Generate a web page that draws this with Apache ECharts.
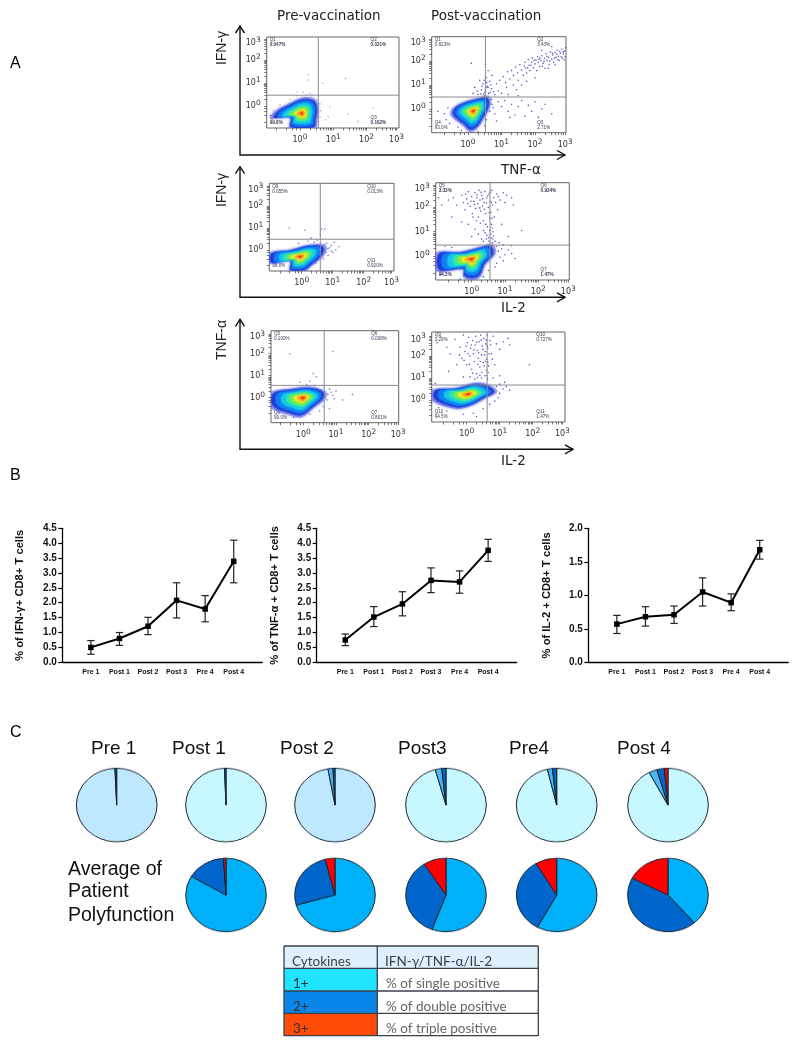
<!DOCTYPE html>
<html><head><meta charset="utf-8">
<style>html,body{margin:0;padding:0;background:#fff}#main{position:absolute;left:0;top:0;width:800px;height:1045px}#pies{position:absolute;left:0;top:755px;width:800px;height:205px;transform-origin:0 0;transform:scaleY(0.913);pointer-events:none}</style>
<script src="https://cdn.jsdelivr.net/npm/echarts@6/dist/echarts.min.js"></script>
</head><body><div id="main"></div><div id="pies"></div>
<script>
// ---------- data: line charts ----------
const visits = ['', 'Pre 1', 'Post 1', 'Post 2', 'Post 3', 'Pre 4', 'Post 4', ''];
const ifnMean = [0.5, 0.8, 1.21, 2.08, 1.79, 3.39];
const ifnHigh = [0.73, 1.0, 1.51, 2.67, 2.24, 4.1];
const ifnLow  = [0.27, 0.57, 0.93, 1.49, 1.36, 2.67];
const tnfMean = [0.75, 1.52, 1.96, 2.75, 2.7, 3.76];
const tnfHigh = [0.95, 1.87, 2.37, 3.17, 3.07, 4.13];
const tnfLow  = [0.56, 1.2, 1.56, 2.34, 2.32, 3.39];
const il2Mean = [0.57, 0.68, 0.71, 1.05, 0.89, 1.68];
const il2High = [0.7, 0.83, 0.84, 1.26, 1.02, 1.82];
const il2Low  = [0.43, 0.54, 0.58, 0.84, 0.77, 1.54];
// ---------- data: pies ----------
const pieNames = ['Pre 1', 'Post 1', 'Post 2', 'Post3', 'Pre4', 'Post 4'];
const perVisitSlices = [[99.3,0,0.7,0],[99.4,0,0.6,0],[97.2,2,0.8,0],[95.7,2.6,1.7,0],[96.3,2,1.7,0],[92.25,3.3,3,1.45]];
const polySlices = [[83.5,15.5,1],[70.6,25.5,3.9],[55.7,35.2,9.1],[58,33.4,8.6],[38.7,43.9,17.4]];
// ---------- data: flow panels (log10 decades) ----------
const blobTL = [[0.45,0.26],[0.55,-0.17],[0.5,-0.6],[0.45,-0.95],[-0.3,-0.95],[-0.3,-0.5],[-0.85,-0.52],[-0.75,-0.25],[-0.4,0.04],[0.1,0.35]];
const blobTR = [[0.61,0.51],[0.66,0.17],[0.46,-0.39],[0.26,-0.8],[0.06,-0.92],[-0.14,-0.67],[-0.49,-0.25],[-0.44,0.03],[-0.09,0.3],[0.31,0.45]];
const blobML = [[-1.05,-0.15],[-0.38,0],[0.27,0.23],[0.75,0.18],[0.7,-0.23],[0.27,-0.76],[0.1,-0.95],[-0.38,-0.95],[-0.38,-0.5],[-1.05,-0.6]];
const blobMR = [[-1.05,0.12],[-0.35,0.16],[0.35,0.4],[0.6,0.47],[0.7,0.12],[0.4,-0.36],[0.25,-0.84],[0,-0.97],[-0.25,-0.84],[-0.25,-0.55],[-1.05,-0.6]];
const blobBL = [[-1,0.2],[-0.4,0.39],[0.2,0.48],[0.66,0.27],[0.66,-0.02],[0.3,-0.47],[-0.05,-0.86],[-0.4,-0.78],[-1,-0.4]];
const blobBR = [[-1.04,0.45],[-0.35,0.53],[0.25,0.76],[0.65,0.68],[0.9,0.38],[0.55,0.08],[0.05,-0.3],[-0.35,-0.38],[-1.04,0]];
const peakTL = [0.05,-0.32], peakTR = [0.16,-0.08], peakML = [-0.05,-0.3], peakMR = [0,-0.12], peakBL = [0,0], peakBR = [0.05,0.27];
const dotsTL = [[0.25,1.35],[0.25,1.13],[0.68,0.99],[1.37,1.2],[-0.08,0.62],[0.55,0.26],[0.9,-0.03],[0.85,-0.46],[1.45,-0.35],[2.2,-0.1],[0.78,-0.6],[1.75,-0.67],[0.2,0.5],[0.1,0.6],[-0.1,0.45],[0.35,0.45],[0.3,0.55],[-0.3,0.3],[0.6,0.1],[0.62,-0.2],[0.6,-0.5],[0.55,-0.7],[-0.6,0.05],[-0.8,-0.2],[-0.9,-0.4]];
const dotsTR = [[1.05,1.35],[1.12,1.1],[1.18,1.55],[1.25,1.25],[1.3,1.6],[1.36,1.4],[1.42,1.75],[1.48,1.5],[1.5,1.2],[1.55,1.85],[1.6,1.62],[1.65,1.4],[1.7,1.95],[1.72,1.7],[1.75,1.5],[1.8,2.05],[1.82,1.82],[1.85,1.6],[1.9,1.95],[1.92,2.12],[1.95,1.72],[2,1.88],[2.03,2.05],[2.05,1.6],[2.08,2.18],[2.1,1.95],[2.14,1.78],[2.18,2.02],[2.2,2.22],[2.24,1.9],[2.28,2.1],[2.3,1.7],[2.33,2.3],[2.36,2.02],[2.4,2.15],[2.42,1.85],[2.46,2.38],[2.5,2.08],[2.53,2.25],[2.56,1.95],[2.6,2.35],[2.63,2.15],[2.66,2.45],[2.7,2.2],[2.72,2.02],[2.76,2.32],[2.8,2.5],[2.82,2.12],[2.85,2.3],[2.88,2.42],[2.9,2.18],[2.92,2.55],[2.5,2.6],[2.2,2.45],[1.6,1],[2,1.3],[0.3,0.6],[0.4,0.8],[0.45,1.05],[0.5,0.7],[0.55,1.3],[0.58,0.95],[0.6,1.6],[0.62,0.65],[0.65,1.15],[0.7,0.85],[0.72,1.4],[0.8,0.6],[0.85,1.05],[0.2,0.9],[0.15,0.65],[0.35,1.2],[0.9,0.75],[1,0.65],[0.1,1.9],[0.52,1.85],[0.42,0.95],[0.48,1.2],[0.56,1.1],[0.68,1],[0.9,0.3],[1,0.1],[1.1,0.35],[1.2,-0.1],[1.3,0.2],[1.4,-0.25],[1.5,0.1],[1.6,0.35],[1.7,-0.3],[1.8,0.15],[1.9,-0.1],[2,0.3],[2.1,-0.35],[2.3,0.2],[2.5,-0.2],[1.25,-0.35],[0.8,-0.2],[0.75,0.05],[0.85,-0.5],[2.2,0],[-0.6,0.05],[-0.7,-0.2],[-0.65,-0.45],[-0.55,-0.6],[-0.3,-0.75],[-0.2,-0.9],[0.3,-0.95],[0.5,-0.7],[0.55,-0.45],[0.65,-0.1],[0.72,0.2],[0.7,0.4],[-0.9,-0.1],
 [2.15,2.12],[2.27,1.98],[2.35,2.2],[2.44,2],[2.52,2.32],[2.58,2.12],[2.65,2.28],[2.68,2.05],[2.74,2.4],[2.78,2.18],[2.84,2.38],[2.87,2.05],[2.94,2.32],[2.96,2.48],[1.98,2.02],[2.12,2.06],[1.88,1.82],[1.78,1.72],[1.68,1.78],[2.22,1.78],[2.4,1.7],[2.6,1.85],[0.5,0.55],[0.6,0.9],[0.66,0.7],[0.76,0.72],[0.46,0.62],[0.54,0.9],[0.28,0.75],[0.38,0.62],[0.95,1.2],[1.15,0.9],[1.35,1],[1.45,0.8],[1.75,1.15],[1.2,0.6],[1.5,0.55]];
const dotsML = [[-0.4,1],[0.1,0.9],[0.65,0.95],[0.75,0.95],[0.6,0.7],[0.3,0.55],[0.5,0.45],[0.8,0.3],[0.9,0.1],[1,-0.1],[1.05,0.35],[0.95,0.2],[1.1,0],[0.85,-0.25],[0.7,-0.4],[0.45,-0.6],[-0.1,0.3],[0.2,0.4],[0.4,0.35],[0.85,0.05],[0.78,-0.1],[0.95,-0.05],[0.72,0.25],[1.2,0.15]];
const dotsMR = [[-0.55,2.4],[-0.7,2.3],[-0.45,2.1],[-0.3,2.5],[-0.25,2.2],[-0.2,1.9],[-0.15,2.35],[-0.1,2.65],[-0.05,2.05],[0,2.45],[0.02,1.75],[0.06,2.25],[0.1,2.6],[0.12,1.95],[0.15,2.4],[0.18,2.15],[0.2,1.6],[0.22,2.7],[0.25,2.3],[0.27,1.85],[0.3,2.5],[0.32,2.05],[0.35,1.45],[0.37,2.2],[0.4,2.65],[0.42,1.75],[0.45,2.4],[0.47,1.2],[0.5,2],[0.52,2.55],[0.54,1.55],[0.56,2.25],[0.57,0.9],[0.58,1.8],[0.6,2.7],[0.6,1.3],[0.62,2.1],[0.63,0.7],[0.64,1],[0.66,2.4],[0.68,1.6],[0.75,2.55],[0.85,2.3],[0.95,2.6],[1,2.2],[1.05,2.5],[1.2,2.4],[1.25,2.1],[0.9,1.3],[1.1,0.8],[0.1,1.1],[0.2,0.9],[0,0.8],[0.3,0.7],[0.4,0.95],[-0.1,1.3],[-0.3,1.4],[-0.6,1.6],[-0.9,2.1],[-1,2.4],[1.5,1.05],[0.35,0.6],[0.5,0.75],[0.55,1.05],[0.45,0.85],[0.75,0.4],[0.8,0.2],[0.9,0.3],[1,0.05],[1.1,0.25],[0.85,-0.05],[0.95,-0.2],[0.75,-0.3],[0.7,-0.45],[1.2,0.1],[1.3,-0.1],[0.5,-0.6],[0.35,-0.85],[-0.35,-0.95],[0.95,0.45],[1.2,0.42],[0.82,0.55],[-0.8,0.4],[-0.9,-0.75],[-0.6,0.35],
 [0.08,2.12],[0.16,2.52],[0.24,1.98],[0.28,2.62],[0.33,2.35],[0.38,1.92],[0.44,2.18],[0.48,2.48],[0.52,1.78],[0.55,2.62],[0.59,2.2],[0.61,1.55],[0.62,1.15],[0.65,0.82],[0.58,0.75],[0.52,0.62],[0.44,0.7],[0.42,1.3],[0.36,1.05],[0.26,1.35],[0.14,1.45],[0.04,1.6],[-0.02,2.25],[-0.12,2.15],[-0.18,2.55],[0.72,2.2],[0.8,2.45],[0.78,1.9],[0.7,0.6],[0.62,0.55]];
const dotsBL = [[-0.4,2],[0.9,2.1],[0.3,1.1],[0.4,0.95],[0.2,0.75],[-0.1,0.7],[0.1,0.6],[0.35,0.55],[0.6,0.55],[0.8,0.4],[0.9,0.1],[1,0.3],[1.2,-0.1],[1.5,0.15],[0.6,-0.4],[0.8,-0.5],[0.5,-0.6],[-0.3,-0.9],[0.2,-0.75],[0.75,0.15],[0.85,0.25],[0.72,-0.1],[0.95,-0.05]];
const dotsBR = [[-0.5,2.1],[-0.35,2.75],[-0.2,2.4],[-0.15,1.9],[-0.1,2.95],[-0.05,2.2],[0,1.6],[0.02,2.6],[0.06,2.85],[0.1,2],[0.12,2.35],[0.15,1.4],[0.18,2.7],[0.2,2.1],[0.23,1.75],[0.26,2.5],[0.28,2.9],[0.3,1.2],[0.32,2.25],[0.35,1.9],[0.38,2.65],[0.4,1.5],[0.42,2.95],[0.45,2.05],[0.47,2.45],[0.5,1.7],[0.52,2.8],[0.55,1.1],[0.56,2.2],[0.58,2.55],[0.6,1.35],[0.6,1.85],[0.62,2.95],[0.63,0.95],[0.64,2.35],[0.66,1.55],[0.7,2.7],[0.75,2.1],[0.8,2.9],[0.9,2.55],[1,2.3],[1.1,2.65],[1.25,2.8],[1.3,2.5],[0.85,1.6],[-0.3,1.6],[-0.6,2.4],[-0.8,2.9],[-0.9,2.6],[-0.55,1.3],[-0.1,1.05],[0.1,1.05],[0.25,0.95],[0.45,1],[1.9,1.6],[1,1.1],[0.8,1],[0.9,0.62],[1,0.72],[1.1,0.5],[1.2,0.6],[1,0.3],[0.95,0.1],[0.85,-0.05],[0.7,-0.2],[0.5,-0.4],[0.2,-0.6],[-0.1,-0.65],[-0.6,-0.5],[-0.85,-0.35],[0.3,-0.75],[1.3,0.45],[1.15,0.8],[-0.95,0.75],
 [0.04,2.1],[0.14,2.5],[0.22,2.28],[0.3,2.62],[0.34,1.62],[0.36,2.15],[0.41,1.75],[0.44,2.72],[0.46,1.25],[0.49,2.3],[0.53,1.55],[0.54,2.05],[0.57,1.75],[0.59,2.72],[0.61,1.1],[0.62,2.45],[0.64,1.7],[0.65,1.25],[0.68,2.1],[0.72,2.5],[0.78,1.85],[0.4,1.12],[0.33,1.02],[0.18,1.22],[0.08,1.62],[-0.08,1.8],[-0.22,2.05],[-0.02,2.45]];
const quadTL = ['Q1','0.047%','Q2','0.021%','Q4','99.8%','Q3','0.162%'];
const quadTR = ['Q1','0.823%','Q2','3.43%','Q4','93.0%','Q3','2.71%'];
const quadML = ['Q9','0.055%','Q10','0.013%','Q12','99.0%','Q11','0.920%'];
const quadMR = ['Q5','3.33%','Q6','0.924%','Q8','94.3%','Q7','1.47%'];
const quadBL = ['Q5','0.100%','Q6','0.008%','Q8','99.0%','Q7','0.801%'];
const quadBR = ['Q9','3.29%','Q10','0.727%','Q12','94.5%','Q11','1.47%'];
const flowLabelExp = ['0','1','2','3'];
const flowXLabelPos = [0,1,2,2.9];
const flowYLabelPos = [0,1,2,2.75];
const flowMinorPos = [-0.7,-0.4,-0.22,-0.1,0,0.3,0.48,0.6,0.7,0.78,0.85,0.9,0.95,1,1.3,1.48,1.6,1.7,1.78,1.85,1.9,1.95,2,2.3,2.48,2.6,2.7,2.78,2.85,2.9];
const tableHead = ['Cytokines','IFN-γ/TNF-α/IL-2'];
const tableKeys = ['1+','2+','3+'];
const tableText = ['% of single positive','% of double positive','% of triple positive'];

// ---------- layout ----------
const flowPanels = [
 {b:[266.7,37,132.3,91],  x0:300,   xs:33.3, y0:106,  ys:23,   q:[0.55,0.47], blob:blobTL, peak:peakTL, dots:dotsTL, text:quadTL, dot:'#9a9cdc'},
 {b:[431.7,36.7,134.3,96],x0:468,   xs:33.5, y0:109,  ys:24,   q:[0.52,0.5],  blob:blobTR, peak:peakTR, dots:dotsTR, text:quadTR, dot:'#3236b4'},
 {b:[269.3,183.3,124.7,87.7],x0:301.7,xs:31,  y0:250,  ys:22,   q:[0.6,0.49],  blob:blobML, peak:peakML, dots:dotsML, text:quadML, dot:'#5a5cc4'},
 {b:[435.7,182.7,133.6,97.3],x0:471.7,xs:33.3,y0:256,  ys:24.3, q:[0.55,0.45], blob:blobMR, peak:peakMR, dots:dotsMR, text:quadMR, dot:'#3236b4'},
 {b:[271,330.7,127.7,92], x0:303.3, xs:32.7, y0:397.7,ys:22,   q:[0.64,0.56], blob:blobBL, peak:peakBL, dots:dotsBL, text:quadBL, dot:'#5a5cc4'},
 {b:[431.7,332,133.3,90], x0:466.7, xs:33,   y0:400,  ys:22,   q:[0.62,0.68], blob:blobBR, peak:peakBR, dots:dotsBR, text:quadBR, dot:'#3236b4'}
];
const linePanels = [
 {left:62.3, mean:ifnMean, hi:ifnHigh, lo:ifnLow, max:4.5, name:'% of IFN-γ+ CD8+ T cells', gap:37},
 {left:316.7,mean:tnfMean, hi:tnfHigh, lo:tnfLow, max:4.5, name:'% of TNF-α + CD8+ T cells', gap:36},
 {left:588.3,mean:il2Mean, hi:il2High, lo:il2Low, max:2,   name:'% of IL-2 + CD8+ T cells', gap:36}
];
const levels = [[1.04,'#6a70e0',.5],[.92,'#2038d8',.92],[.8,'#0f7cf0',1],[.64,'#12c4ee',1],[.5,'#2ee6b0',1],[.38,'#7aec4a',1],[.27,'#e4ee30',1],[.16,'#ffa020',1],[.07,'#ee3010',1]];

const grids=[],xAxes=[],yAxes=[],series=[],graphics=[];
const addText=(x,y,t,o)=>graphics.push({type:'text',x,y,style:Object.assign({text:t,fill:'#000',fontFamily:'"Liberation Sans"',fontSize:12,verticalAlign:'middle'},o||{})});

flowPanels.forEach((p,i)=>{
  const [l,t,w,h]=p.b;
  grids.push({left:l,top:t,width:w,height:h,show:true,borderColor:'#666',borderWidth:1,backgroundColor:'#fff'});
  const xMin=(l-p.x0)/p.xs,xMax=(l+w-p.x0)/p.xs,yMax=(p.y0-t)/p.ys,yMin=(p.y0-t-h)/p.ys;
  const rich={b:{fontFamily:'"DejaVu Sans"',fontSize:8,color:'#333'},s:{fontFamily:'"DejaVu Sans"',fontSize:7.5,color:'#333',padding:[0,0,6,0]}};
  xAxes.push({gridIndex:i,type:'value',min:xMin,max:xMax,splitLine:{show:false},axisLine:{show:false,onZero:false},
    axisTick:{show:true,length:2.5,customValues:flowMinorPos.filter(v=>v>=xMin&&v<=xMax),lineStyle:{color:'#444',width:.7}},
    axisLabel:{customValues:flowXLabelPos,margin:5,formatter:v=>'{b|10}{s|'+flowLabelExp[flowXLabelPos.indexOf(v)]+'}',rich}});
  yAxes.push({gridIndex:i,type:'value',min:yMin,max:yMax,splitLine:{show:false},axisLine:{show:false,onZero:false},
    axisTick:{show:true,length:2.5,customValues:flowMinorPos.filter(v=>v>=yMin&&v<=yMax),lineStyle:{color:'#444',width:.7}},
    axisLabel:{customValues:flowYLabelPos,margin:6,formatter:v=>'{b|10}{s|'+flowLabelExp[flowYLabelPos.indexOf(v)]+'}',rich}});
  series.push({type:'scatter',xAxisIndex:i,yAxisIndex:i,data:p.dots,symbolSize:1.6,silent:true,animation:false,itemStyle:{color:p.dot,opacity:.8},z:2});
  series.push({type:'custom',xAxisIndex:i,yAxisIndex:i,silent:true,animation:false,clip:true,z:3,
    data:levels.map(()=>p.peak),encode:{x:0,y:1},
    renderItem:(params,api)=>{
      const lv=levels[params.dataIndex];
      const pts=p.blob.map(v=>api.coord([p.peak[0]+(v[0]-p.peak[0])*lv[0],p.peak[1]+(v[1]-p.peak[1])*lv[0]]));
      return {type:'polygon',shape:{points:pts,smooth:.35},style:{fill:lv[1],opacity:lv[2],shadowBlur:3,shadowColor:lv[1]}};
    }});
  series.push({type:'custom',xAxisIndex:i,yAxisIndex:i,silent:true,animation:false,z:4,data:[p.q],encode:{x:0,y:1},
    renderItem:(params,api)=>{
      const c=api.coord(p.q),s={stroke:'#8a8a92',lineWidth:1};
      return {type:'group',children:[
        {type:'line',shape:{x1:c[0],y1:t,x2:c[0],y2:t+h},style:s},
        {type:'line',shape:{x1:l,y1:c[1],x2:l+w,y2:c[1]},style:s}]};
    }});
  const q={fontSize:4.6,fill:'#3a3a55',fontFamily:'"Liberation Sans"'};
  const rx=l+w*0.785;
  [[l+3,t+3,0],[rx,t+3,2],[l+3,t+h-10,4],[rx,t+h-10,6]].forEach(a=>{
    addText(a[0],a[1],p.text[a[2]],q); addText(a[0],a[1]+5,p.text[a[2]+1],Object.assign({},q,{fontWeight:(i==0||i==3)?'bold':'normal'}));
  });
});

linePanels.forEach((p,k)=>{
  const i=flowPanels.length+k;
  grids.push({left:p.left,top:528.3,width:200,height:134});
  xAxes.push({gridIndex:i,type:'category',data:visits,boundaryGap:false,axisTick:{show:false},
    axisLine:{lineStyle:{color:'#000',width:1.3}},
    axisLabel:{interval:0,margin:6,fontFamily:'"Liberation Sans"',fontWeight:'bold',fontSize:7,color:'#111'}});
  yAxes.push({gridIndex:i,type:'value',min:0,max:p.max,interval:.5,splitLine:{show:false},
    axisLine:{show:true,lineStyle:{color:'#000',width:1.3}},axisTick:{show:true,length:4,lineStyle:{color:'#000',width:1.2}},
    axisLabel:{margin:5.5,fontFamily:'"Liberation Sans"',fontWeight:'bold',fontSize:10,color:'#111',formatter:v=>v.toFixed(1)},
    name:p.name,nameLocation:'middle',nameGap:p.gap,nameRotate:90,
    nameTextStyle:{fontFamily:'"Liberation Sans"',fontWeight:'bold',fontSize:11.2,color:'#111'}});
  series.push({type:'custom',xAxisIndex:i,yAxisIndex:i,silent:true,animation:false,z:3,
    data:p.mean.map((m,j)=>[j+1,p.lo[j],p.hi[j]]),encode:{x:0,y:[1,2]},
    renderItem:(params,api)=>{
      const a=api.coord([api.value(0),api.value(1)]),b=api.coord([api.value(0),api.value(2)]);
      const s={stroke:'#222',lineWidth:1.2};
      return {type:'group',children:[
        {type:'line',shape:{x1:a[0],y1:a[1],x2:b[0],y2:b[1]},style:s},
        {type:'line',shape:{x1:a[0]-3.7,y1:a[1],x2:a[0]+3.7,y2:a[1]},style:s},
        {type:'line',shape:{x1:b[0]-3.7,y1:b[1],x2:b[0]+3.7,y2:b[1]},style:s}]};
    }});
  series.push({type:'line',xAxisIndex:i,yAxisIndex:i,data:p.mean.map((m,j)=>[j+1,m]),symbol:'rect',symbolSize:5.5,silent:true,animation:false,
    lineStyle:{color:'#000',width:2},itemStyle:{color:'#000'},z:4});
});

// panel letters, headings, arrows
addText(10,64,'A',{fontSize:16}); addText(10,476,'B',{fontSize:16}); addText(10,733,'C',{fontSize:16});
const dj={fontFamily:'"DejaVu Sans"',fontSize:13.5,fill:'#222',letterSpacing:1.6};
addText(277,16,'Pre-vaccination',dj); addText(431,16,'Post-vaccination',dj);
addText(501,170,'TNF-α',dj); addText(501,308,'IL-2',dj); addText(501,461,'IL-2',dj);
[[48,'IFN-γ'],[190,'IFN-γ'],[340,'TNF-α']].forEach(a=>graphics.push({type:'text',x:222,y:a[0],rotation:Math.PI/2,style:{text:a[1],fontFamily:'"Liberation Sans"',fontSize:14,fill:'#222',align:'center',verticalAlign:'middle'}}));
[[26,155,565],[166.7,297.3,565],[319.3,449.3,573]].forEach(a=>{
  const st={stroke:'#111',lineWidth:1.4,fill:null};
  graphics.push({type:'polyline',shape:{points:[[240,a[0]],[240,a[1]],[a[2],a[1]]]},style:st});
  graphics.push({type:'polyline',shape:{points:[[235.5,a[0]+7],[240,a[0]],[244.5,a[0]+7]]},style:st});
  graphics.push({type:'polyline',shape:{points:[[a[2]-8,a[1]-4.5],[a[2],a[1]],[a[2]-8,a[1]+4.5]]},style:st});
});
// pie captions
const pieLabelX=[91,172,280,398,509,617];
const pc={fontSize:19,fill:'#111'};
pieNames.forEach((n,i)=>addText(pieLabelX[i],749,n,pc));
['Average of','Patient','Polyfunction'].forEach((n,i)=>addText(68,[870,892,916][i],n,{fontSize:19.5,fill:'#111'}));
// legend table
const rowY=[946,968.3,991,1013.3,1035.7],keyColors=['#1FE3FF','#0A85E8','#FF4A08'];
const rect=(x,y,w,h,fill)=>graphics.push({type:'rect',shape:{x,y,width:w,height:h},style:{fill}});
rect(284,946,254.3,22.3,'#DDF0FB');
keyColors.forEach((c,i)=>rect(284,rowY[i+1],93.3,rowY[i+2]-rowY[i+1],c));
rowY.forEach(y=>graphics.push({type:'line',shape:{x1:284,y1:y,x2:538.3,y2:y},style:{stroke:'#3a3f4a',lineWidth:1.3}}));
[284,377.3,538.3].forEach(x=>graphics.push({type:'line',shape:{x1:x,y1:946,x2:x,y2:1035.7},style:{stroke:'#3a3f4a',lineWidth:1.3}}));
const tb={fontFamily:'Lato',fontSize:13.5,fill:'#3a3f4a'};
addText(292,961.5,tableHead[0],tb); addText(385,961.5,tableHead[1],tb);
tableKeys.forEach((k,i)=>{addText(293,984+i*22.5,k,Object.assign({},tb,{fill:'#333'}));addText(386,984+i*22.5,tableText[i],Object.assign({},tb,{fill:'#666',letterSpacing:.5}));});

const chart=echarts.init(document.getElementById('main'),null,{width:800,height:1045});
chart.setOption({animation:false,backgroundColor:'#fff',grid:grids,xAxis:xAxes,yAxis:yAxes,series,graphic:{elements:graphics}});

// ---------- pies (slightly elliptical in the source, flattened by the container) ----------
const squash=0.913,pieTop=755,rx=40.3;
const pieX=[116.7,226,335,446,556.7,668];
const lightFill=['#BEE8FE','#C8F8FF','#BEE8FE','#C8F8FF','#C8F8FF','#C8F8FF'];
const polyColors=['#00B0F8','#0066CC','#FF0000'];
const pieSeries=[];
const pieOf=(cx,cy,vals,cols)=>pieSeries.push({type:'pie',center:[cx,(cy-pieTop)/squash],radius:[0,rx],startAngle:90,clockwise:true,silent:true,animation:false,label:{show:false},labelLine:{show:false},
  itemStyle:{borderColor:'#17222c',borderWidth:1},
  data:vals.map((v,i)=>({value:v,itemStyle:{color:cols[i]}})).filter(d=>d.value>0)});
perVisitSlices.forEach((v,i)=>pieOf(pieX[i],805,v,[lightFill[i],'#4DB8F0','#0066CC','#FF0000']));
polySlices.forEach((v,i)=>pieOf(pieX[i+1],895,v,polyColors));
const pieChart=echarts.init(document.getElementById('pies'),null,{width:800,height:205});
pieChart.setOption({animation:false,series:pieSeries});
</script></body></html>
